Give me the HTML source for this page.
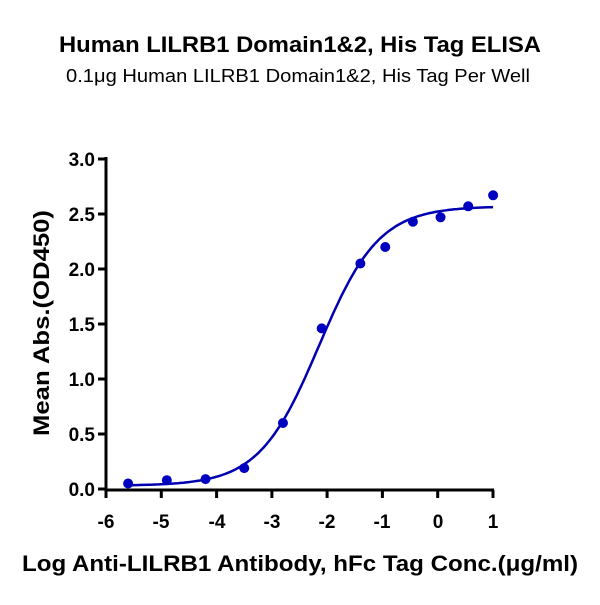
<!DOCTYPE html>
<html><head><meta charset="utf-8"><style>
body{margin:0;background:#fff;}
svg text{font-family:"Liberation Sans",sans-serif;}
</style></head><body>
<svg id="s" width="600" height="600" viewBox="0 0 600 600">
<text x="300" y="52" text-anchor="middle" font-size="22" font-weight="bold" textLength="482" lengthAdjust="spacingAndGlyphs">Human LILRB1 Domain1&amp;2, His Tag ELISA</text>
<text x="298" y="82" text-anchor="middle" font-size="18" textLength="464" lengthAdjust="spacingAndGlyphs">0.1μg Human LILRB1 Domain1&amp;2, His Tag Per Well</text>
<g stroke="#000" stroke-width="3" fill="none">
<path d="M106 157 V490 H494"/>
<path d="M98 159 H106 M98 214 H106 M98 269 H106 M98 324 H106 M98 379 H106 M98 434 H106 M98 489 H106"/>
<path d="M106 490 V498 M161.3 490 V498 M216.6 490 V498 M271.9 490 V498 M327.1 490 V498 M382.4 490 V498 M437.7 490 V498 M493 490 V498"/>
</g>
<g font-size="19" font-weight="bold" text-anchor="end">
<text x="95" y="166">3.0</text><text x="95" y="221">2.5</text><text x="95" y="276">2.0</text>
<text x="95" y="331">1.5</text><text x="95" y="386">1.0</text><text x="95" y="441">0.5</text><text x="95" y="496">0.0</text>
</g>
<g font-size="19" font-weight="bold" text-anchor="middle">
<text x="106" y="528">-6</text><text x="161" y="528">-5</text><text x="217" y="528">-4</text><text x="272" y="528">-3</text>
<text x="327" y="528">-2</text><text x="382" y="528">-1</text><text x="438" y="528">0</text><text x="493" y="528">1</text>
</g>
<text transform="translate(49,323) rotate(-90)" text-anchor="middle" font-size="22" font-weight="bold" textLength="226" lengthAdjust="spacingAndGlyphs">Mean Abs.(OD450)</text>
<text x="300" y="571" text-anchor="middle" font-size="22" font-weight="bold" textLength="556" lengthAdjust="spacingAndGlyphs">Log Anti-LILRB1 Antibody, hFc Tag Conc.(μg/ml)</text>
<path id="c" fill="none" stroke="#0000b0" stroke-width="2.5"/>
<g id="p" fill="#0000c0"></g>
</svg>
<script>
var X=function(v){return 106+(v+6)*55.3},Y=function(v){return 489-v*110};
var d="";for(var x=-5.6;x<=1.001;x+=0.05){var y=0.03+2.54/(1+Math.pow(10,(-2.15-x)*0.8));d+=(d?"L":"M")+X(x).toFixed(1)+" "+Y(y).toFixed(1);}
document.getElementById("c").setAttribute("d",d);
var pts=[[-5.6,0.05],[-4.9,0.08],[-4.2,0.09],[-3.5,0.19],[-2.8,0.6],[-2.1,1.46],[-1.4,2.05],[-0.95,2.2],[-0.45,2.43],[0.05,2.47],[0.55,2.57],[1,2.67]];
var g=document.getElementById("p"),h="";pts.forEach(function(p){h+='<circle cx="'+X(p[0])+'" cy="'+Y(p[1])+'" r="5"/>';});g.innerHTML=h;
</script>
</body></html>
